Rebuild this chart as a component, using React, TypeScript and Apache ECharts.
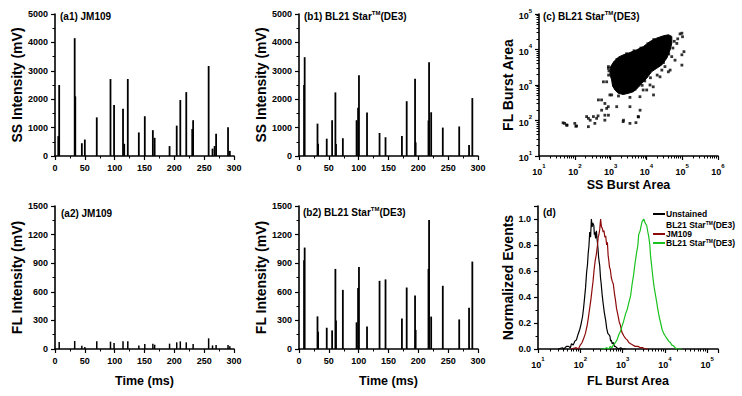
import React, { useEffect, useRef } from 'react';
import * as echarts from 'echarts';

const FONT = '"Liberation Sans", Arial, Helvetica, sans-serif';

// ---------- (a) JM109 bursts ----------
const aTimes = [7, 33, 45, 50, 70, 93, 99, 114, 122, 140.5, 150.5, 164, 167, 192, 204, 210, 220, 231.5, 257.5, 264, 270, 290, 293];
const aSS = [2500, 4150, 450, 580, 1360, 2710, 1800, 1660, 2710, 830, 1400, 910, 640, 350, 1070, 1970, 2250, 1260, 3170, 260, 780, 1010, 180];
const aFL = [73, 84, 35, 20, 80, 77, 63, 80, 80, 38, 52, 56, 45, 56, 70, 80, 70, 52, 112, 38, 42, 42, 28];
const aSubTimes = [5.5, 34, 116, 230, 267.5];
const aSubSS = [700, 2100, 430, 950, 350];

// ---------- (b) BL21 Star(DE3) bursts ----------
const bTimes = [9.5, 31, 46.5, 55.5, 61, 73.5, 96.5, 100.5, 114, 135, 145, 172.5, 180.5, 194.5, 218, 221.5, 241, 268.5, 285, 290.5];
const bSS = [3480, 1140, 610, 1260, 2240, 625, 1260, 2840, 1530, 810, 660, 700, 1930, 2720, 3300, 1540, 1000, 1040, 390, 2040];
const bFL = [1064, 342, 223, 195, 840, 620, 280, 860, 237, 715, 730, 320, 645, 560, 1353, 340, 663, 310, 433, 917];
const bSubTimes = [8.5, 32, 62, 99, 195.5, 217];
const bSubSS = [2500, 430, 420, 1700, 480, 1250];
const bSubFL = [930, 180, 300, 640, 200, 840];

// ---------- (c) scatter: dense cloud outline + individual dots ----------
const cloudSS = [1067, 957, 1000, 1239, 1640, 2265, 3483, 5355, 8241, 12680, 19500, 30000, 41400, 51300, 51300, 46100, 37150, 26900, 19500, 14100, 10200, 7400, 5970, 4325, 3126, 2265, 1640, 1321, 1138];
const cloudFL = [1387, 2138, 3305, 4571, 6067, 7063, 8222, 9794, 12160, 16830, 20940, 24380, 26000, 23330, 15100, 9794, 5690, 3680, 2965, 2382, 1545, 1115, 859, 647, 581, 544, 581, 721, 938];
const cDots: [number, number][] = [
  [87000, 27500], [102000, 22900], [70800, 14800], [98000, 7100], [63000, 5000], [51000, 6300], [41000, 2350],
  [33000, 3300], [24000, 1700], [15500, 890], [776, 1230], [630, 1230], [870, 3300], [955, 525], [1660, 490],
  [2240, 590], [3470, 447], [8130, 724], [12600, 1000], [98000, 28800], [112000, 8700], [98000, 3630],
  [46000, 2630], [27000, 2630], [10200, 724], [6600, 468], [3470, 245], [5900, 129], [3470, 83], [5100, 87],
  [2240, 93], [870, 2950], [457, 380], [562, 195], [776, 219], [870, 141], [692, 141], [407, 115], [331, 129],
  [240, 115], [269, 102], [363, 83], [214, 129], [240, 67], [112, 70], [100, 83], [52, 83], [59, 74],
  [692, 302], [1070, 525], [1480, 245], [1200, 1000], [47, 86], [61, 74], [107, 69], [446, 135], [560, 380],
  [690, 102], [860, 245], [2290, 102], [6000, 126], [6660, 195], [15800, 525], [60000, 17000], [75000, 20000],
  [55000, 11000], [1100, 1700], [900, 2500], [1300, 4200], [2000, 5600], [9000, 1300], [20000, 1900],
  [880, 1900], [1500, 5200], [2800, 7600], [4500, 9200], [7000, 11000], [11000, 14500], [16000, 19000],
  [2600, 700], [4800, 760], [7600, 980], [13000, 1600], [30000, 4300], [42000, 7500]
];

// ---------- (d) normalized histograms ----------
const histUnstained: [number, number][] = [
  [30, 0], [38, 0.01], [41, 0], [47, 0.02], [53, 0.02], [58, 0.01], [62, 0.04], [68, 0.03], [74, 0.06], [81, 0.07],
  [88, 0.11], [97, 0.15], [104, 0.19], [113, 0.25], [119, 0.31], [125, 0.38], [133, 0.47], [141, 0.59], [148, 0.65],
  [154, 0.74], [160, 0.79], [167, 0.9], [175, 0.86], [183, 1.0], [190, 0.94], [197, 0.97], [209, 0.95], [215, 0.88],
  [220, 0.9], [230, 0.85], [240, 0.91], [250, 0.84], [259, 0.79], [272, 0.7], [288, 0.64], [300, 0.55], [310, 0.51],
  [328, 0.42], [347, 0.35], [370, 0.28], [398, 0.22], [420, 0.16], [447, 0.12], [475, 0.11], [501, 0.1], [520, 0.06],
  [537, 0.07], [570, 0.04], [603, 0.05], [640, 0.02], [676, 0.02], [730, 0.01], [800, 0], [900, 0.01], [1000, 0], [1200, 0]
];
const histJM109: [number, number][] = [
  [60, 0], [80, 0.01], [90, 0], [100, 0.03], [110, 0.05], [120, 0.08], [132, 0.12], [145, 0.18], [155, 0.24], [166, 0.31],
  [178, 0.38], [190, 0.46], [200, 0.52], [212, 0.61], [225, 0.68], [240, 0.73], [255, 0.8], [265, 0.86], [275, 0.88],
  [288, 0.92], [302, 1.0], [316, 0.94], [331, 0.93], [347, 0.9], [363, 0.91], [380, 0.86], [398, 0.87], [420, 0.8],
  [437, 0.82], [455, 0.72], [468, 0.69], [490, 0.63], [513, 0.61], [540, 0.55], [570, 0.52], [603, 0.5], [640, 0.43],
  [676, 0.38], [720, 0.31], [776, 0.26], [830, 0.21], [891, 0.18], [960, 0.13], [1072, 0.1], [1180, 0.08], [1288, 0.07],
  [1400, 0.05], [1549, 0.04], [1750, 0.03], [1995, 0.02], [2300, 0.02], [2630, 0.01], [3000, 0.01], [3467, 0], [4000, 0]
];
const histBL21: [number, number][] = [
  [300, 0], [355, 0], [420, 0.01], [470, 0], [513, 0.02], [560, 0.01], [600, 0.03], [676, 0.05], [740, 0.07], [813, 0.11],
  [900, 0.14], [977, 0.18], [1050, 0.21], [1175, 0.27], [1300, 0.31], [1413, 0.36], [1549, 0.41], [1680, 0.5], [1820, 0.57],
  [1950, 0.65], [2138, 0.74], [2300, 0.8], [2399, 0.88], [2600, 0.91], [2884, 0.98], [3162, 1.0], [3400, 0.97], [3715, 0.95],
  [3950, 0.9], [4169, 0.86], [4400, 0.8], [4571, 0.72], [4900, 0.63], [5248, 0.54], [5600, 0.47], [6026, 0.41], [6400, 0.36],
  [6761, 0.31], [7300, 0.25], [7943, 0.2], [8600, 0.15], [9333, 0.12], [10200, 0.1], [11220, 0.08], [12300, 0.06],
  [13490, 0.05], [14600, 0.03], [15850, 0.025], [17500, 0.01], [19500, 0], [25000, 0]
];

// minor tick mantissas on the log axes
const logMinorMantissas = [2, 3, 4, 5, 6, 7, 8, 9];

const BLACK = '#000000';
const RED = '#8e0a0a';
const GREEN = '#19c21c';

const axisLine = { show: true, onZero: false, lineStyle: { color: BLACK, width: 1.6 } };
const axisTick = { show: true, length: 4, lineStyle: { color: BLACK, width: 1.2 } };
const minorTick = { show: true, splitNumber: 2, length: 2.5, lineStyle: { color: BLACK, width: 1 } };
const axisLabel = { color: BLACK, fontSize: 9, fontWeight: 'bold', fontFamily: FONT, margin: 7, formatter: (v: number) => String(v) };
const nameStyleV = { color: BLACK, fontSize: 14, fontWeight: 'bold', fontFamily: FONT };
const nameStyleH = { color: BLACK, fontSize: 12.5, fontWeight: 'bold', fontFamily: FONT };

const logRich = {
  b: { fontSize: 9, fontWeight: 'bold', fontFamily: FONT, color: BLACK, lineHeight: 13, verticalAlign: 'bottom' },
  s: { fontSize: 6, fontWeight: 'bold', fontFamily: FONT, color: BLACK, lineHeight: 8, verticalAlign: 'top' },
};
const logFormatter = (v: number) => {
  const e = Math.log10(v);
  const r = Math.round(e);
  if (Math.abs(e - r) > 1e-6) return '';
  return `{b|10}{s|${r}}`;
};
const minorLogValues = (minExp: number, maxVal: number) => {
  const out: number[] = [];
  for (let e = minExp; Math.pow(10, e) < maxVal; e++) {
    logMinorMantissas.forEach((m) => {
      const v = m * Math.pow(10, e);
      if (v < maxVal) out.push(v);
    });
  }
  return out;
};

function timeAxis(gridIndex: number, withName: boolean) {
  return {
    type: 'value', gridIndex, min: 0, max: 300, interval: 50,
    axisLine, axisTick, minorTick, axisLabel, splitLine: { show: false },
    name: withName ? 'Time (ms)' : '', nameLocation: 'middle', nameGap: 25, nameTextStyle: nameStyleH,
  };
}
function intensityAxis(gridIndex: number, name: string, max: number, interval: number) {
  return {
    type: 'value', gridIndex, min: 0, max, interval,
    axisLine, axisTick, minorTick, axisLabel, splitLine: { show: false },
    name, nameLocation: 'middle', nameGap: 30, nameTextStyle: nameStyleV,
  };
}
function logAxis(gridIndex: number, min: number, max: number, name: string, gap: number, vertical: boolean) {
  return {
    type: 'log', logBase: 10, gridIndex, min, max,
    position: vertical ? 'left' : 'bottom',
    axisLine, axisTick, minorTick: { show: false },
    axisLabel: { ...axisLabel, formatter: logFormatter, rich: logRich },
    splitLine: { show: false },
    name, nameLocation: 'middle', nameGap: gap, nameTextStyle: vertical ? nameStyleV : nameStyleH,
  };
}
function logMinorAxis(gridIndex: number, min: number, max: number, vertical: boolean) {
  return {
    type: 'log', logBase: 10, gridIndex, min, max,
    position: vertical ? 'left' : 'bottom',
    axisLine: { show: false },
    axisLabel: { show: false },
    splitLine: { show: false },
    axisTick: { show: true, length: 2.5, customValues: minorLogValues(1, max), lineStyle: { color: BLACK, width: 1 } },
    minorTick: { show: false },
  };
}

const spikes = (t: number[], v: number[], st: number[], sv: number[]) => [
  ...t.map((x, i) => [x, v[i]]),
  ...st.map((x, i) => [x, sv[i]]),
];

const supRich = {
  t: { fontSize: 10, fontWeight: 'bold', fontFamily: FONT, color: BLACK, lineHeight: 12 },
  sup: { fontSize: 6, fontWeight: 'bold', fontFamily: FONT, color: BLACK, lineHeight: 7, verticalAlign: 'top' },
};
const legRich = {
  t: { fontSize: 8.5, fontWeight: 'bold', fontFamily: FONT, color: BLACK, lineHeight: 10 },
  sup: { fontSize: 5, fontWeight: 'bold', fontFamily: FONT, color: BLACK, lineHeight: 6, verticalAlign: 'top' },
};
const panelText = (x: number, y: number, text: string) => ({
  type: 'text', x, y,
  style: { text, rich: supRich, verticalAlign: 'middle', align: 'left' },
});
const legText = (x: number, y: number, text: string) => ({
  type: 'text', x, y,
  style: { text, rich: legRich, verticalAlign: 'middle', align: 'left' },
});
const legLine = (y: number, color: string) => ({
  type: 'line', shape: { x1: 653, y1: y, x2: 665, y2: y }, style: { stroke: color, lineWidth: 2 },
});

export default function App() {
  const ref = useRef<HTMLDivElement>(null);
  useEffect(() => {
    if (!ref.current) return;
    const chart = echarts.init(ref.current, null, { renderer: 'svg' });
    const option: any = {
      animation: false,
      backgroundColor: '#ffffff',
      grid: [
        { left: 55, top: 14, width: 179, height: 142 },
        { left: 299, top: 14, width: 179, height: 142 },
        { left: 539, top: 14, width: 179, height: 142 },
        { left: 55, top: 206, width: 179, height: 143 },
        { left: 299, top: 206, width: 179, height: 143 },
        { left: 538, top: 206, width: 180, height: 143 },
      ],
      xAxis: [
        timeAxis(0, false),
        timeAxis(1, false),
        logAxis(2, 10, 1e6, 'SS Burst Area', 22, false),
        timeAxis(3, true),
        timeAxis(4, true),
        logAxis(5, 10, 180000, 'FL Burst Area', 25, false),
        logMinorAxis(2, 10, 1e6, false),
        logMinorAxis(5, 10, 180000, false),
      ],
      yAxis: [
        intensityAxis(0, 'SS Intensity (mV)', 5000, 1000),
        intensityAxis(1, 'SS Intensity (mV)', 5000, 1000),
        logAxis(2, 10, 1e5, 'FL Burst Area', 22, true),
        intensityAxis(3, 'FL Intensity (mV)', 1500, 300),
        intensityAxis(4, 'FL Intensity (mV)', 1500, 300),
        {
          type: 'value', gridIndex: 5, min: 0, max: 1.1, interval: 0.2,
          axisLine, axisTick, minorTick, splitLine: { show: false },
          axisLabel: { ...axisLabel, formatter: (v: number) => (v > 1.05 ? '' : v.toFixed(1)) },
          name: 'Normalized Events', nameLocation: 'middle', nameGap: 23, nameTextStyle: nameStyleV,
        },
        logMinorAxis(2, 10, 1e5, true),
      ],
      series: [
        { type: 'bar', xAxisIndex: 0, yAxisIndex: 0, barWidth: 1.8, itemStyle: { color: BLACK }, data: spikes(aTimes, aSS, aSubTimes, aSubSS) },
        { type: 'bar', xAxisIndex: 1, yAxisIndex: 1, barWidth: 1.8, itemStyle: { color: BLACK }, data: spikes(bTimes, bSS, bSubTimes, bSubSS) },
        {
          type: 'custom', xAxisIndex: 2, yAxisIndex: 2, silent: true,
          data: cloudSS.map((x, i) => [x, cloudFL[i]]),
          renderItem: (params: any, api: any) => {
            if (params.dataIndex !== 0) return null;
            const pts = cloudSS.map((x, i) => api.coord([x, cloudFL[i]]));
            return { type: 'polygon', shape: { points: pts }, style: { fill: BLACK, stroke: BLACK, lineWidth: 1 } };
          },
        },
        { type: 'scatter', xAxisIndex: 2, yAxisIndex: 2, symbol: 'rect', symbolSize: 2.8, itemStyle: { color: BLACK }, data: cDots },
        { type: 'bar', xAxisIndex: 3, yAxisIndex: 3, barWidth: 1.5, itemStyle: { color: BLACK }, data: spikes(aTimes, aFL, [], []) },
        { type: 'bar', xAxisIndex: 4, yAxisIndex: 4, barWidth: 1.8, itemStyle: { color: BLACK }, data: spikes(bTimes, bFL, bSubTimes, bSubFL) },
        { type: 'line', xAxisIndex: 5, yAxisIndex: 5, showSymbol: false, symbol: 'none', lineStyle: { color: BLACK, width: 1.2 }, itemStyle: { color: BLACK }, data: histUnstained },
        { type: 'line', xAxisIndex: 5, yAxisIndex: 5, showSymbol: false, symbol: 'none', lineStyle: { color: RED, width: 1.2 }, itemStyle: { color: RED }, data: histJM109 },
        { type: 'line', xAxisIndex: 5, yAxisIndex: 5, showSymbol: false, symbol: 'none', lineStyle: { color: GREEN, width: 1.2 }, itemStyle: { color: GREEN }, data: histBL21 },
      ],
      graphic: [
        panelText(60, 16, '{t|(a1) JM109}'),
        panelText(304, 16, '{t|(b1) BL21 Star}{sup|TM}{t|(DE3)}'),
        panelText(543, 16, '{t|(c) BL21 Star}{sup|TM}{t|(DE3)}'),
        panelText(61, 213, '{t|(a2) JM109}'),
        panelText(303, 212, '{t|(b2) BL21 Star}{sup|TM}{t|(DE3)}'),
        panelText(543, 212, '{t|(d)}'),
        legLine(214, BLACK), legText(666, 214, '{t|Unstained}'),
        legText(666, 225, '{t|BL21 Star}{sup|TM}{t|(DE3)}'),
        legLine(234, RED), legText(666, 234, '{t|JM109}'),
        legLine(243, GREEN), legText(666, 243, '{t|BL21 Star}{sup|TM}{t|(DE3)}'),
      ],
    };
    chart.setOption(option);
    return () => chart.dispose();
  }, []);
  return (
    <div
      ref={ref}
      style={{ position: 'absolute', left: 0, top: 0, width: 742, height: 396, background: '#fff' }}
    />
  );
}
